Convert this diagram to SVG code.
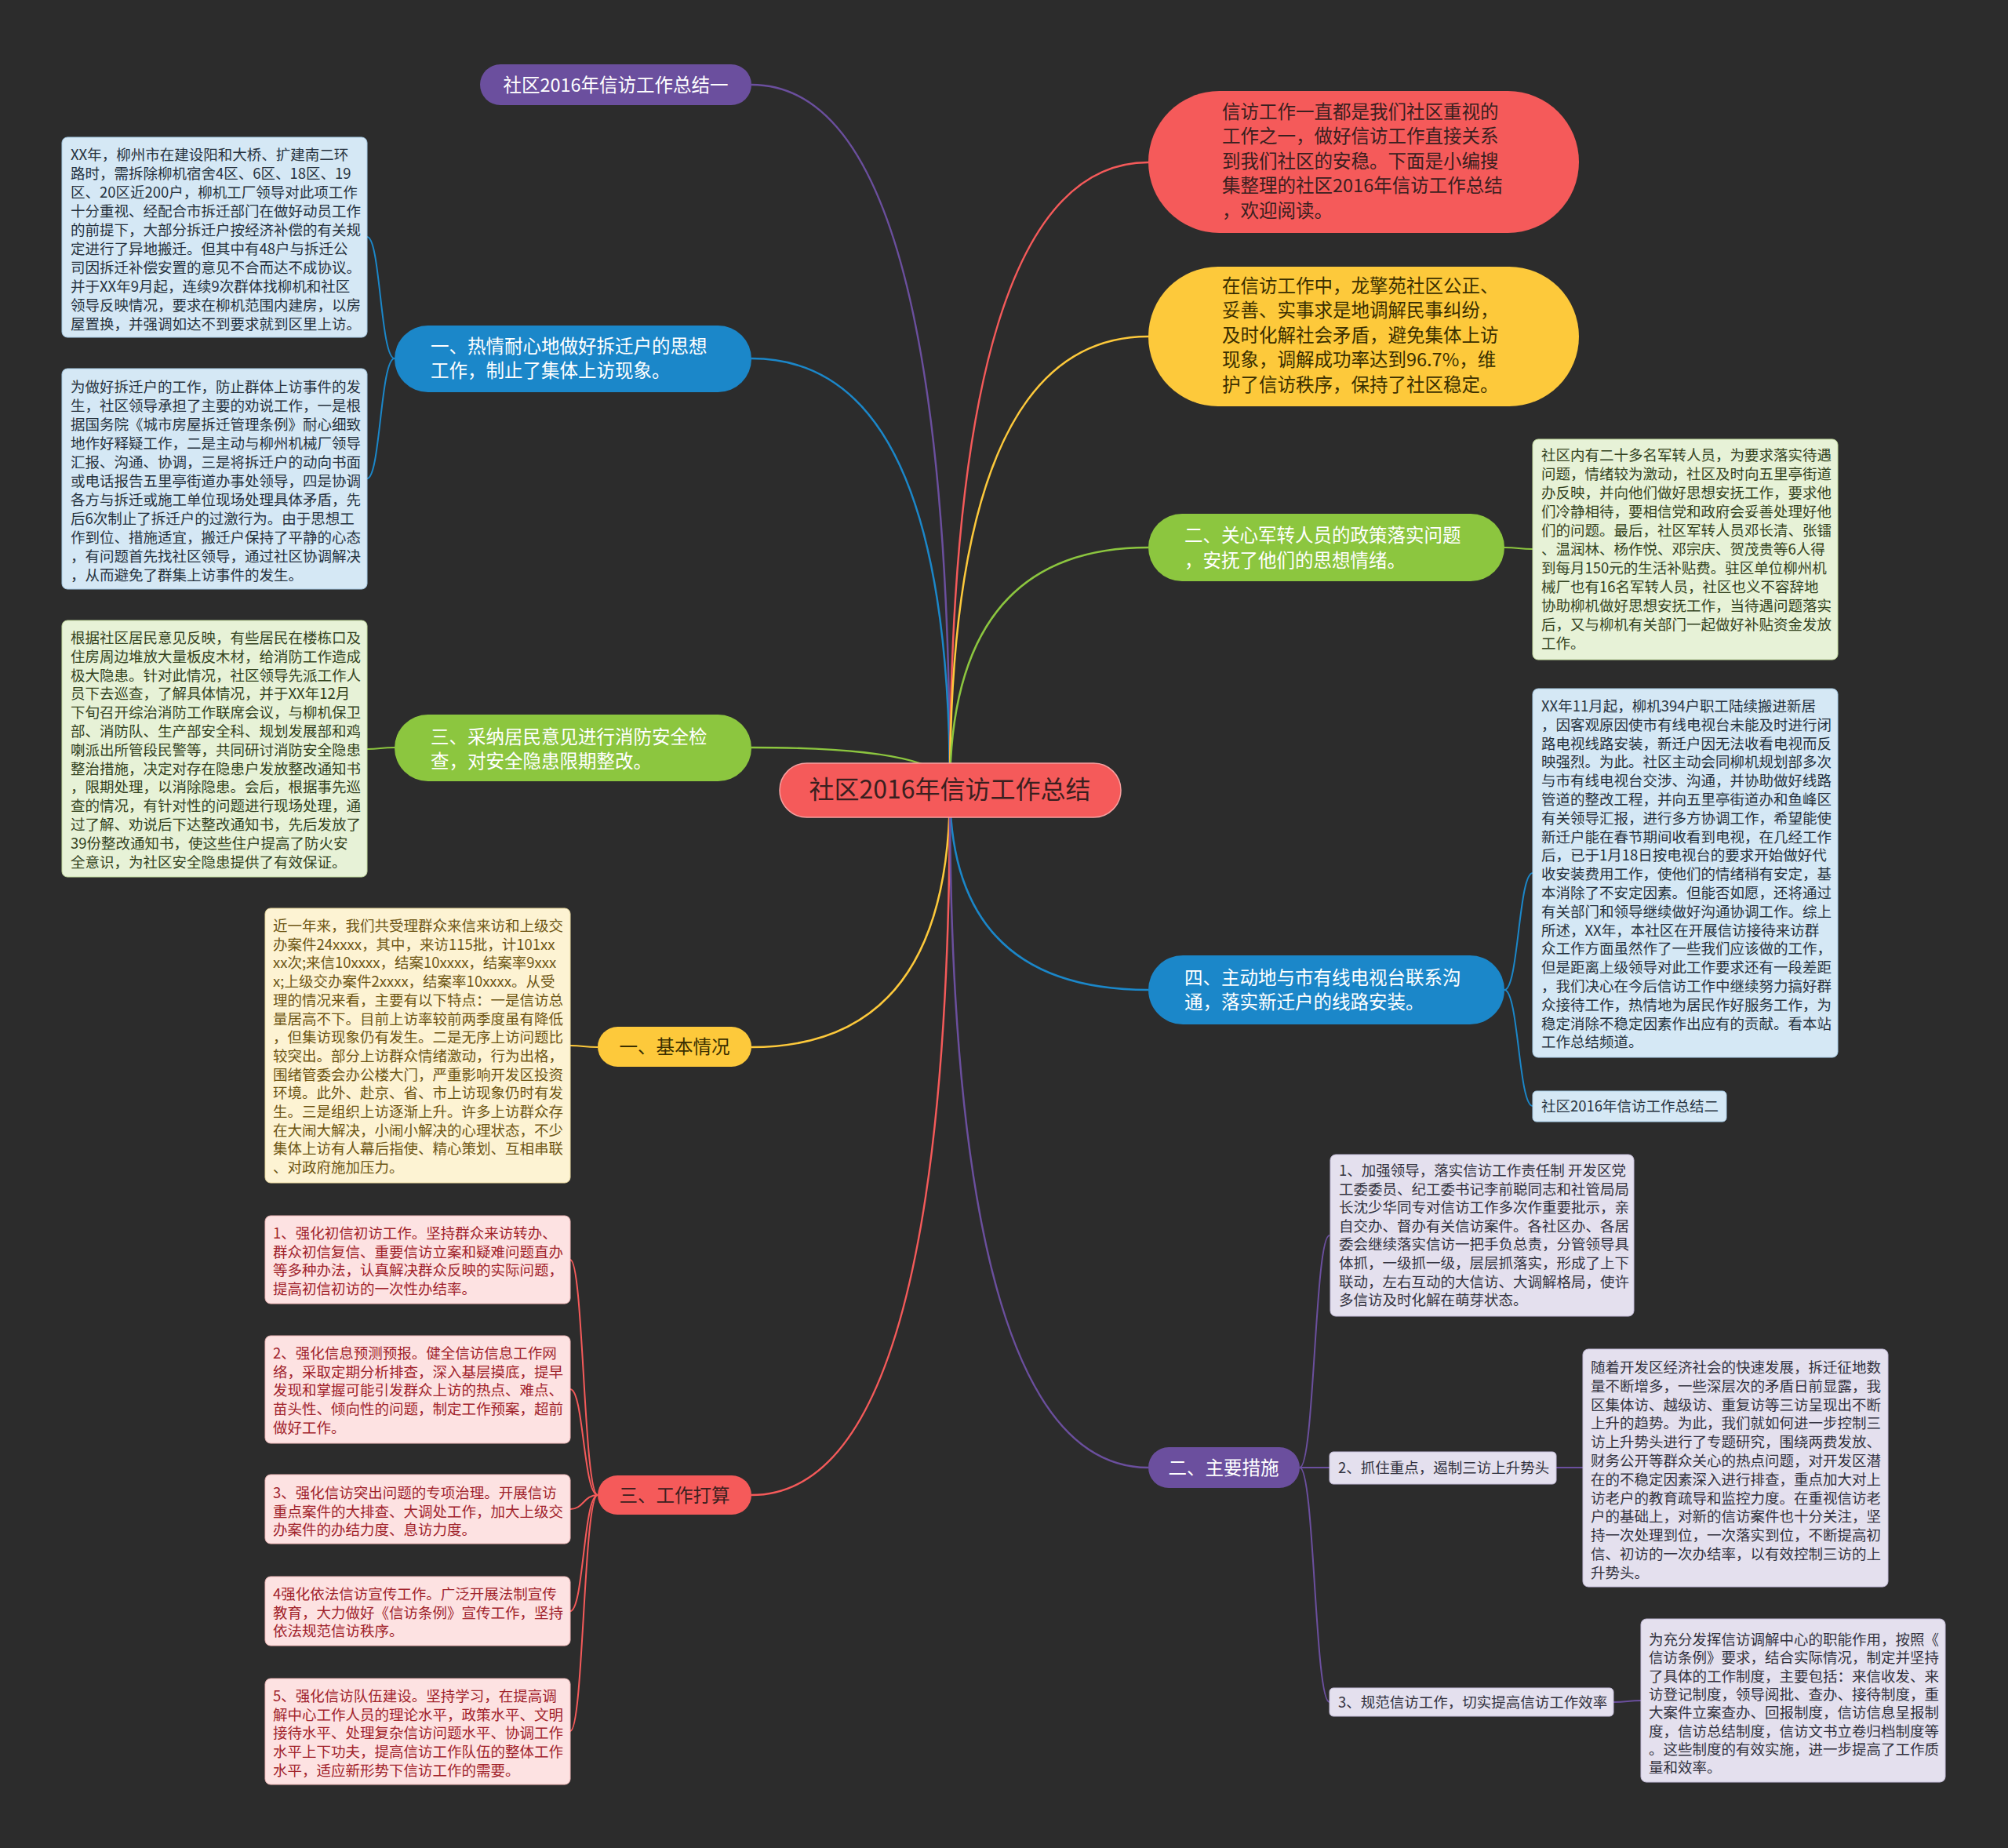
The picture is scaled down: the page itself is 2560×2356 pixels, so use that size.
<svg xmlns="http://www.w3.org/2000/svg" width="2560" height="2356" viewBox="0 0 2560 2356">
<style>
text{font-family:"Noto Sans CJK SC","Noto Sans",sans-serif;}
.bt{font-size:18.5px;}
.pt{font-size:23.5px;}
.c{fill:none;stroke-width:2.5;}
.s{fill:none;stroke-width:2;}
.w{fill:#ffffff;}
.dk{fill:#3a1f1f;}
.dy{fill:#3a2f00;}
.tb{fill:#26323e;}
.tg{fill:#33421e;}
.ty{fill:#6e5614;}
.tr{fill:#a1232b;}
.tp{fill:#333340;}
.bb{fill:#d5e8f5;stroke:#a8cce6;stroke-width:1;}
.bg{fill:#e7f2d7;stroke:#c3dca0;stroke-width:1;}
.by{fill:#fdf3d3;stroke:#ead9a0;stroke-width:1;}
.br{fill:#fde2e2;stroke:#f0b8b8;stroke-width:1;}
.bp{fill:#e4e0ee;stroke:#c6bedb;stroke-width:1;}
</style>
<rect x="0" y="0" width="2560" height="2356" fill="#2c2c2c"/>
<g id="connectors">
<path class="c" stroke="#6b4f9e" d="M1211,1007 Q1211,108 958,108"/>
<path class="c" stroke="#1b87c9" d="M1211,1007 Q1211,457 958,457"/>
<path class="c" stroke="#8cc63f" d="M1211,1007 Q1211,953 958,953"/>
<path class="c" stroke="#fdc93b" d="M1211,1007 Q1211,1335 958,1335"/>
<path class="c" stroke="#f55a5a" d="M1211,1007 Q1211,1906 958,1906"/>
<path class="c" stroke="#f55a5a" d="M1211,1007 Q1211,207 1464,207"/>
<path class="c" stroke="#fdc93b" d="M1211,1007 Q1211,429 1464,429"/>
<path class="c" stroke="#8cc63f" d="M1211,1007 Q1211,698 1464,698"/>
<path class="c" stroke="#1b87c9" d="M1211,1007 Q1211,1262 1464,1262"/>
<path class="c" stroke="#6b4f9e" d="M1211,1007 Q1211,1871 1464,1871"/>
<path class="s" stroke="#1b87c9" d="M503,457 C485,457 485,302 468,302"/>
<path class="s" stroke="#1b87c9" d="M503,457 C485,457 485,610 468,610"/>
<path class="s" stroke="#8cc63f" d="M503,953 C485,953 485,955 468,955"/>
<path class="s" stroke="#fdc93b" d="M762,1335 C744,1335 744,1333 727,1333"/>
<path class="s" stroke="#f55a5a" d="M762,1906 C744,1906 744,1606 727,1606"/>
<path class="s" stroke="#f55a5a" d="M762,1906 C744,1906 744,1771 727,1771"/>
<path class="s" stroke="#f55a5a" d="M762,1906 C744,1906 744,1924 727,1924"/>
<path class="s" stroke="#f55a5a" d="M762,1906 C744,1906 744,2054 727,2054"/>
<path class="s" stroke="#f55a5a" d="M762,1906 C744,1906 744,2207 727,2207"/>
<path class="s" stroke="#8cc63f" d="M1918,698 C1936,698 1936,700 1954,700"/>
<path class="s" stroke="#1b87c9" d="M1918,1262 C1936,1262 1936,1113 1954,1113"/>
<path class="s" stroke="#1b87c9" d="M1918,1262 C1936,1262 1936,1410 1954,1410"/>
<path class="s" stroke="#6b4f9e" d="M1657,1871 C1676,1871 1676,1575 1695,1575"/>
<path class="s" stroke="#6b4f9e" d="M1657,1871 C1676,1871 1676,1871 1695,1871"/>
<path class="s" stroke="#6b4f9e" d="M1657,1871 C1676,1871 1676,2170 1695,2170"/>
<path class="s" stroke="#6b4f9e" d="M1984,1871 L2018,1871"/>
<path class="s" stroke="#6b4f9e" d="M2057,2170 C2075,2170 2075,2168 2092,2168"/>
</g>
<g id="center">
<rect x="994" y="973" width="435" height="69" rx="34.5" fill="#f55a5a" stroke="#f7a0a0" stroke-width="1.5"/>
<text x="1211" y="1018" font-size="32" text-anchor="middle" class="dk">社区2016年信访工作总结</text>
</g>
<g id="n-sum1">
<rect x="612" y="82" width="346" height="52" rx="26" fill="#6b4f9e"/>
<text x="785" y="116.5" class="pt w" text-anchor="middle">社区2016年信访工作总结一</text>
</g>
<g id="n-intro">
<rect x="1464" y="116" width="549" height="181" rx="90.5" fill="#f55a5a"/>
<text class="pt dk"><tspan x="1558" y="150.5">信访工作一直都是我们社区重视的</tspan><tspan x="1558" y="182">工作之一，做好信访工作直接关系</tspan><tspan x="1558" y="213.5">到我们社区的安稳。下面是小编搜</tspan><tspan x="1558" y="245">集整理的社区2016年信访工作总结</tspan><tspan x="1558" y="276.5">，欢迎阅读。</tspan></text>
</g>
<g id="n-yellow">
<rect x="1464" y="340" width="549" height="178" rx="89" fill="#fdc93b"/>
<text class="pt dy"><tspan x="1558" y="372.5">在信访工作中，龙擎苑社区公正、</tspan><tspan x="1558" y="404">妥善、实事求是地调解民事纠纷，</tspan><tspan x="1558" y="435.5">及时化解社会矛盾，避免集体上访</tspan><tspan x="1558" y="467">现象，调解成功率达到96.7%，维</tspan><tspan x="1558" y="498.5">护了信访秩序，保持了社区稳定。</tspan></text>
</g>
<g id="n-green-r">
<rect x="1464" y="655" width="454" height="86" rx="43" fill="#8cc63f"/>
<text class="pt w"><tspan x="1510" y="690.5">二、关心军转人员的政策落实问题</tspan><tspan x="1510" y="722.5">，安抚了他们的思想情绪。</tspan></text>
</g>
<g id="b-green-r">
<rect x="1954" y="560" width="389" height="281" rx="7" class="bg"/>
<text class="bt tg"><tspan x="1965" y="587">社区内有二十多名军转人员，为要求落实待遇</tspan><tspan x="1965" y="611">问题，情绪较为激动，社区及时向五里亭街道</tspan><tspan x="1965" y="635">办反映，并向他们做好思想安抚工作，要求他</tspan><tspan x="1965" y="659">们冷静相待，要相信党和政府会妥善处理好他</tspan><tspan x="1965" y="683">们的问题。最后，社区军转人员邓长清、张镭</tspan><tspan x="1965" y="707">、温润林、杨作悦、邓宗庆、贺茂贵等6人得</tspan><tspan x="1965" y="731">到每月150元的生活补贴费。驻区单位柳州机</tspan><tspan x="1965" y="755">械厂也有16名军转人员，社区也义不容辞地</tspan><tspan x="1965" y="779">协助柳机做好思想安抚工作，当待遇问题落实</tspan><tspan x="1965" y="803">后，又与柳机有关部门一起做好补贴资金发放</tspan><tspan x="1965" y="827">工作。</tspan></text>
</g>
<g id="n-blue-r">
<rect x="1464" y="1218" width="454" height="88" rx="44" fill="#1b87c9"/>
<text class="pt w"><tspan x="1510" y="1254.5">四、主动地与市有线电视台联系沟</tspan><tspan x="1510" y="1285.5">通，落实新迁户的线路安装。</tspan></text>
</g>
<g id="b-blue-r">
<rect x="1954" y="878" width="389" height="470" rx="7" class="bb"/>
<text class="bt tb"><tspan x="1965" y="907">XX年11月起，柳机394户职工陆续搬进新居</tspan><tspan x="1965" y="930.8">，因客观原因使市有线电视台未能及时进行闭</tspan><tspan x="1965" y="954.6">路电视线路安装，新迁户因无法收看电视而反</tspan><tspan x="1965" y="978.4">映强烈。为此。社区主动会同柳机规划部多次</tspan><tspan x="1965" y="1002.2">与市有线电视台交涉、沟通，并协助做好线路</tspan><tspan x="1965" y="1026">管道的整改工程，并向五里亭街道办和鱼峰区</tspan><tspan x="1965" y="1049.8">有关领导汇报，进行多方协调工作，希望能使</tspan><tspan x="1965" y="1073.6">新迁户能在春节期间收看到电视，在几经工作</tspan><tspan x="1965" y="1097.4">后，已于1月18日按电视台的要求开始做好代</tspan><tspan x="1965" y="1121.2">收安装费用工作，使他们的情绪稍有安定，基</tspan><tspan x="1965" y="1145">本消除了不安定因素。但能否如愿，还将通过</tspan><tspan x="1965" y="1168.8">有关部门和领导继续做好沟通协调工作。综上</tspan><tspan x="1965" y="1192.6">所述，XX年，本社区在开展信访接待来访群</tspan><tspan x="1965" y="1216.4">众工作方面虽然作了一些我们应该做的工作，</tspan><tspan x="1965" y="1240.2">但是距离上级领导对此工作要求还有一段差距</tspan><tspan x="1965" y="1264">，我们决心在今后信访工作中继续努力搞好群</tspan><tspan x="1965" y="1287.8">众接待工作，热情地为居民作好服务工作，为</tspan><tspan x="1965" y="1311.6">稳定消除不稳定因素作出应有的贡献。看本站</tspan><tspan x="1965" y="1335.4">工作总结频道。</tspan></text>
</g>
<g id="b-sum2">
<rect x="1954" y="1391" width="247" height="39" rx="5" class="bb"/>
<text x="1965" y="1417" class="bt tb">社区2016年信访工作总结二</text>
</g>
<g id="n-purple-r">
<rect x="1464" y="1845" width="193" height="52" rx="26" fill="#6b4f9e"/>
<text x="1560" y="1879.5" class="pt w" text-anchor="middle">二、主要措施</text>
</g>
<g id="b-p1">
<rect x="1696" y="1472" width="387" height="206" rx="7" class="bp"/>
<text class="bt tp"><tspan x="1707" y="1499">1、加强领导，落实信访工作责任制 开发区党</tspan><tspan x="1707" y="1522.6">工委委员、纪工委书记李前聪同志和社管局局</tspan><tspan x="1707" y="1546.2">长沈少华同专对信访工作多次作重要批示，亲</tspan><tspan x="1707" y="1569.8">自交办、督办有关信访案件。各社区办、各居</tspan><tspan x="1707" y="1593.4">委会继续落实信访一把手负总责，分管领导具</tspan><tspan x="1707" y="1617">体抓，一级抓一级，层层抓落实，形成了上下</tspan><tspan x="1707" y="1640.6">联动，左右互动的大信访、大调解格局，使许</tspan><tspan x="1707" y="1664.2">多信访及时化解在萌芽状态。</tspan></text>
</g>
<g id="b-p2">
<rect x="1695" y="1851" width="289" height="41" rx="5" class="bp"/>
<text x="1706" y="1878" class="bt tp">2、抓住重点，遏制三访上升势头</text>
</g>
<g id="b-p2d">
<rect x="2018" y="1720" width="389" height="303" rx="7" class="bp"/>
<text class="bt tp"><tspan x="2028" y="1750">随着开发区经济社会的快速发展，拆迁征地数</tspan><tspan x="2028" y="1773.8">量不断增多，一些深层次的矛盾日前显露，我</tspan><tspan x="2028" y="1797.6">区集体访、越级访、重复访等三访呈现出不断</tspan><tspan x="2028" y="1821.4">上升的趋势。为此，我们就如何进一步控制三</tspan><tspan x="2028" y="1845.2">访上升势头进行了专题研究，围绕两费发放、</tspan><tspan x="2028" y="1869">财务公开等群众关心的热点问题，对开发区潜</tspan><tspan x="2028" y="1892.8">在的不稳定因素深入进行排查，重点加大对上</tspan><tspan x="2028" y="1916.6">访老户的教育疏导和监控力度。在重视信访老</tspan><tspan x="2028" y="1940.4">户的基础上，对新的信访案件也十分关注，坚</tspan><tspan x="2028" y="1964.2">持一次处理到位，一次落实到位，不断提高初</tspan><tspan x="2028" y="1988">信、初访的一次办结率，以有效控制三访的上</tspan><tspan x="2028" y="2011.8">升势头。</tspan></text>
</g>
<g id="b-p3">
<rect x="1695" y="2152" width="362" height="36" rx="5" class="bp"/>
<text x="1706" y="2177" class="bt tp">3、规范信访工作，切实提高信访工作效率</text>
</g>
<g id="b-p3d">
<rect x="2092" y="2064" width="388" height="208" rx="7" class="bp"/>
<text class="bt tp"><tspan x="2102" y="2097">为充分发挥信访调解中心的职能作用，按照《</tspan><tspan x="2102" y="2120.3">信访条例》要求，结合实际情况，制定并坚持</tspan><tspan x="2102" y="2143.6">了具体的工作制度，主要包括：来信收发、来</tspan><tspan x="2102" y="2166.9">访登记制度，领导阅批、查办、接待制度，重</tspan><tspan x="2102" y="2190.2">大案件立案查办、回报制度，信访信息呈报制</tspan><tspan x="2102" y="2213.5">度，信访总结制度，信访文书立卷归档制度等</tspan><tspan x="2102" y="2236.8">。这些制度的有效实施，进一步提高了工作质</tspan><tspan x="2102" y="2260.1">量和效率。</tspan></text>
</g>
<g id="n-blue-l">
<rect x="503" y="415" width="455" height="85" rx="42.5" fill="#1b87c9"/>
<text class="pt w"><tspan x="549" y="449.5">一、热情耐心地做好拆迁户的思想</tspan><tspan x="549" y="480.5">工作，制止了集体上访现象。</tspan></text>
</g>
<g id="b-blue-l1">
<rect x="79" y="175" width="389" height="255" rx="7" class="bb"/>
<text class="bt tb"><tspan x="90" y="204">XX年，柳州市在建设阳和大桥、扩建南二环</tspan><tspan x="90" y="228">路时，需拆除柳机宿舍4区、6区、18区、19</tspan><tspan x="90" y="252">区、20区近200户，柳机工厂领导对此项工作</tspan><tspan x="90" y="276">十分重视、经配合市拆迁部门在做好动员工作</tspan><tspan x="90" y="300">的前提下，大部分拆迁户按经济补偿的有关规</tspan><tspan x="90" y="324">定进行了异地搬迁。但其中有48户与拆迁公</tspan><tspan x="90" y="348">司因拆迁补偿安置的意见不合而达不成协议。</tspan><tspan x="90" y="372">并于XX年9月起，连续9次群体找柳机和社区</tspan><tspan x="90" y="396">领导反映情况，要求在柳机范围内建房，以房</tspan><tspan x="90" y="420">屋置换，并强调如达不到要求就到区里上访。</tspan></text>
</g>
<g id="b-blue-l2">
<rect x="79" y="470" width="389" height="281" rx="7" class="bb"/>
<text class="bt tb"><tspan x="90" y="500">为做好拆迁户的工作，防止群体上访事件的发</tspan><tspan x="90" y="524">生，社区领导承担了主要的劝说工作，一是根</tspan><tspan x="90" y="548">据国务院《城市房屋拆迁管理条例》耐心细致</tspan><tspan x="90" y="572">地作好释疑工作，二是主动与柳州机械厂领导</tspan><tspan x="90" y="596">汇报、沟通、协调，三是将拆迁户的动向书面</tspan><tspan x="90" y="620">或电话报告五里亭街道办事处领导，四是协调</tspan><tspan x="90" y="644">各方与拆迁或施工单位现场处理具体矛盾，先</tspan><tspan x="90" y="668">后6次制止了拆迁户的过激行为。由于思想工</tspan><tspan x="90" y="692">作到位、措施适宜，搬迁户保持了平静的心态</tspan><tspan x="90" y="716">，有问题首先找社区领导，通过社区协调解决</tspan><tspan x="90" y="740">，从而避免了群集上访事件的发生。</tspan></text>
</g>
<g id="n-green-l">
<rect x="503" y="911" width="455" height="85" rx="42.5" fill="#8cc63f"/>
<text class="pt w"><tspan x="549" y="947.5">三、采纳居民意见进行消防安全检</tspan><tspan x="549" y="978.5">查，对安全隐患限期整改。</tspan></text>
</g>
<g id="b-green-l">
<rect x="79" y="791" width="389" height="327" rx="7" class="bg"/>
<text class="bt tg"><tspan x="90" y="820">根据社区居民意见反映，有些居民在楼栋口及</tspan><tspan x="90" y="843.8">住房周边堆放大量板皮木材，给消防工作造成</tspan><tspan x="90" y="867.6">极大隐患。针对此情况，社区领导先派工作人</tspan><tspan x="90" y="891.4">员下去巡查，了解具体情况，并于XX年12月</tspan><tspan x="90" y="915.2">下旬召开综治消防工作联席会议，与柳机保卫</tspan><tspan x="90" y="939">部、消防队、生产部安全科、规划发展部和鸡</tspan><tspan x="90" y="962.8">喇派出所管段民警等，共同研讨消防安全隐患</tspan><tspan x="90" y="986.6">整治措施，决定对存在隐患户发放整改通知书</tspan><tspan x="90" y="1010.4">，限期处理，以消除隐患。会后，根据事先巡</tspan><tspan x="90" y="1034.2">查的情况，有针对性的问题进行现场处理，通</tspan><tspan x="90" y="1058">过了解、劝说后下达整改通知书，先后发放了</tspan><tspan x="90" y="1081.8">39份整改通知书，使这些住户提高了防火安</tspan><tspan x="90" y="1105.6">全意识，为社区安全隐患提供了有效保证。</tspan></text>
</g>
<g id="n-yellow-l">
<rect x="762" y="1309" width="196" height="51" rx="25.5" fill="#fdc93b"/>
<text x="860" y="1343" class="pt dy" text-anchor="middle">一、基本情况</text>
</g>
<g id="b-yellow-l">
<rect x="338" y="1158" width="389" height="350" rx="7" class="by"/>
<text class="bt ty"><tspan x="348" y="1187">近一年来，我们共受理群众来信来访和上级交</tspan><tspan x="348" y="1210.7">办案件24xxxx，其中，来访115批，计101xx</tspan><tspan x="348" y="1234.4">xx次;来信10xxxx，结案10xxxx，结案率9xxx</tspan><tspan x="348" y="1258.1">x;上级交办案件2xxxx，结案率10xxxx。从受</tspan><tspan x="348" y="1281.8">理的情况来看，主要有以下特点：一是信访总</tspan><tspan x="348" y="1305.5">量居高不下。目前上访率较前两季度虽有降低</tspan><tspan x="348" y="1329.2">，但集访现象仍有发生。二是无序上访问题比</tspan><tspan x="348" y="1352.9">较突出。部分上访群众情绪激动，行为出格，</tspan><tspan x="348" y="1376.6">围绪管委会办公楼大门，严重影响开发区投资</tspan><tspan x="348" y="1400.3">环境。此外、赴京、省、市上访现象仍时有发</tspan><tspan x="348" y="1424">生。三是组织上访逐渐上升。许多上访群众存</tspan><tspan x="348" y="1447.7">在大闹大解决，小闹小解决的心理状态，不少</tspan><tspan x="348" y="1471.4">集体上访有人幕后指使、精心策划、互相串联</tspan><tspan x="348" y="1495.1">、对政府施加压力。</tspan></text>
</g>
<g id="n-red-l">
<rect x="762" y="1881" width="196" height="50" rx="25" fill="#f55a5a"/>
<text x="860" y="1914.5" class="pt dk" text-anchor="middle">三、工作打算</text>
</g>
<g id="b-r1">
<rect x="338" y="1550" width="389" height="112" rx="7" class="br"/>
<text class="bt tr"><tspan x="348" y="1579">1、强化初信初访工作。坚持群众来访转办、</tspan><tspan x="348" y="1602.7">群众初信复信、重要信访立案和疑难问题直办</tspan><tspan x="348" y="1626.4">等多种办法，认真解决群众反映的实际问题，</tspan><tspan x="348" y="1650.1">提高初信初访的一次性办结率。</tspan></text>
</g>
<g id="b-r2">
<rect x="338" y="1703" width="389" height="137" rx="7" class="br"/>
<text class="bt tr"><tspan x="348" y="1732">2、强化信息预测预报。健全信访信息工作网</tspan><tspan x="348" y="1755.7">络，采取定期分析排查，深入基层摸底，提早</tspan><tspan x="348" y="1779.4">发现和掌握可能引发群众上访的热点、难点、</tspan><tspan x="348" y="1803.1">苗头性、倾向性的问题，制定工作预案，超前</tspan><tspan x="348" y="1826.8">做好工作。</tspan></text>
</g>
<g id="b-r3">
<rect x="338" y="1880" width="389" height="88" rx="7" class="br"/>
<text class="bt tr"><tspan x="348" y="1910">3、强化信访突出问题的专项治理。开展信访</tspan><tspan x="348" y="1933.5">重点案件的大排查、大调处工作，加大上级交</tspan><tspan x="348" y="1957">办案件的办结力度、息访力度。</tspan></text>
</g>
<g id="b-r4">
<rect x="338" y="2010" width="389" height="88" rx="7" class="br"/>
<text class="bt tr"><tspan x="348" y="2039">4强化依法信访宣传工作。广泛开展法制宣传</tspan><tspan x="348" y="2062.5">教育，大力做好《信访条例》宣传工作，坚持</tspan><tspan x="348" y="2086">依法规范信访秩序。</tspan></text>
</g>
<g id="b-r5">
<rect x="338" y="2140" width="389" height="135" rx="7" class="br"/>
<text class="bt tr"><tspan x="348" y="2169">5、强化信访队伍建设。坚持学习，在提高调</tspan><tspan x="348" y="2192.7">解中心工作人员的理论水平，政策水平、文明</tspan><tspan x="348" y="2216.4">接待水平、处理复杂信访问题水平、协调工作</tspan><tspan x="348" y="2240.1">水平上下功夫，提高信访工作队伍的整体工作</tspan><tspan x="348" y="2263.8">水平，适应新形势下信访工作的需要。</tspan></text>
</g>
</svg>
